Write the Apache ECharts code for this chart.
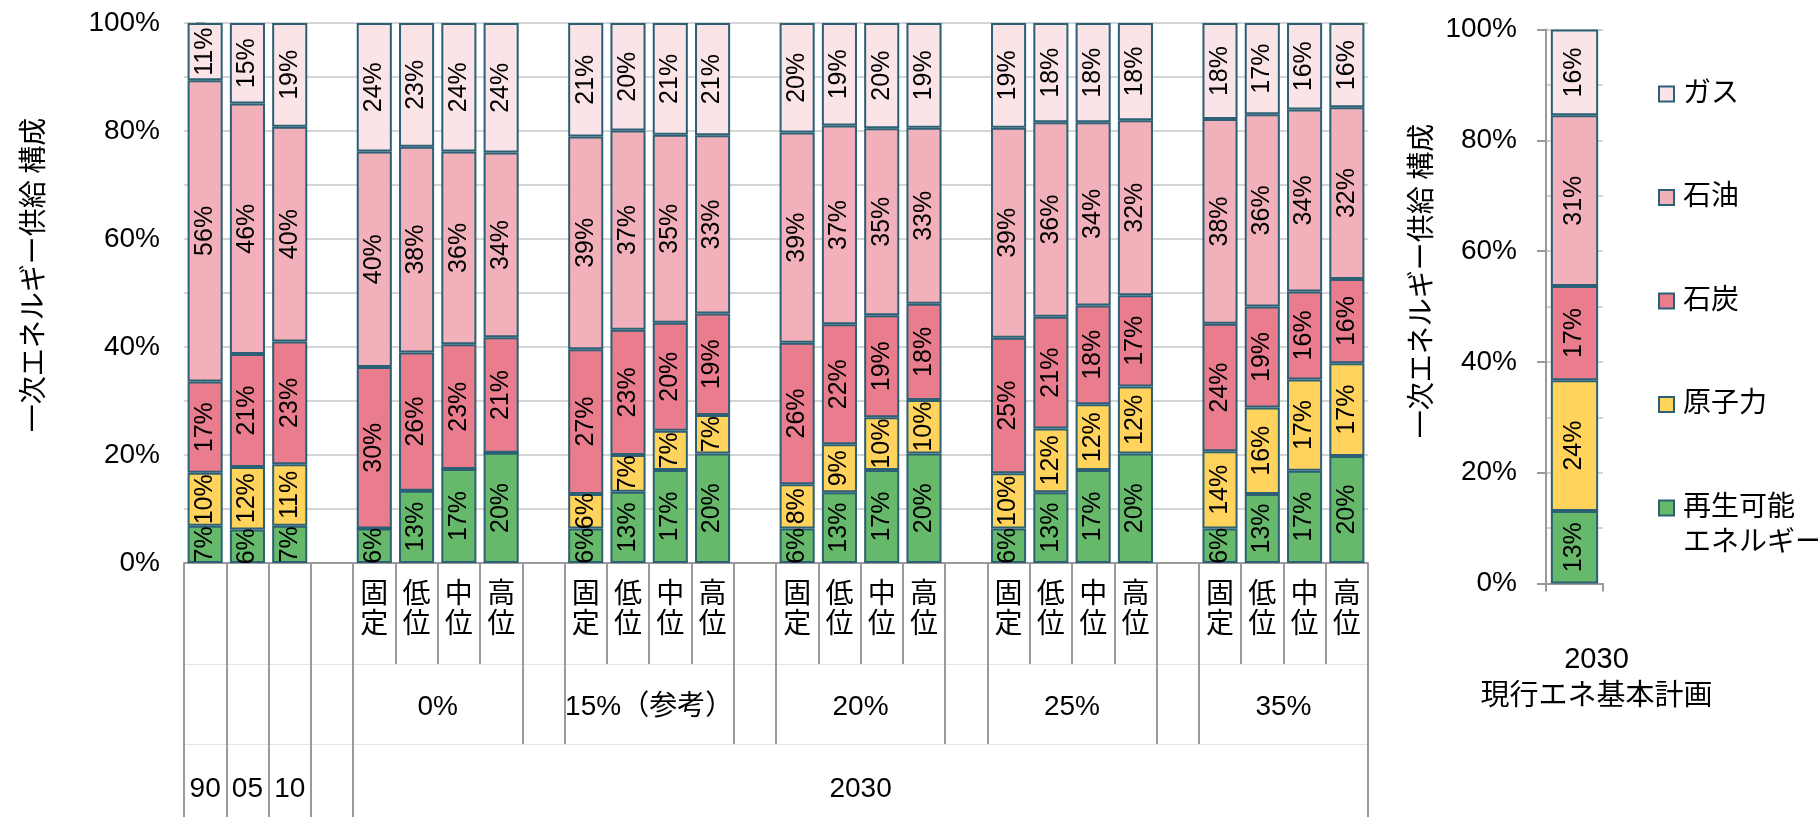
<!DOCTYPE html>
<html><head><meta charset="utf-8">
<script src="https://cdn.jsdelivr.net/npm/echarts@6/dist/echarts.min.js"></script>
<style>html,body{margin:0;padding:0;background:#fff}#c{width:1818px;height:817px}</style>
</head><body><div id="c"></div>
<script>
// ---- data ----
const categories = ['90','05','10','gapA',
  '0%-固定','0%-低位','0%-中位','0%-高位','gapB',
  '15%-固定','15%-低位','15%-中位','15%-高位','gapC',
  '20%-固定','20%-低位','20%-中位','20%-高位','gapD',
  '25%-固定','25%-低位','25%-中位','25%-高位','gapE',
  '35%-固定','35%-低位','35%-中位','35%-高位'];
const subLabels = ['','','','',
  '固\n定','低\n位','中\n位','高\n位','',
  '固\n定','低\n位','中\n位','高\n位','',
  '固\n定','低\n位','中\n位','高\n位','',
  '固\n定','低\n位','中\n位','高\n位','',
  '固\n定','低\n位','中\n位','高\n位'];
const groupNames = ['0%','15%（参考）','20%','25%','35%'];
const groupCenters = [5.5, 10.5, 15.5, 20.5, 25.5];
const level2Bounds = [-0.5,0.5,1.5,2.5,3.5,7.5,8.5,12.5,13.5,17.5,18.5,22.5,23.5,27.5];
const topNames = ['90','05','10','2030'];
const topCenters = [0,1,2,15.5];
const level3Bounds = [-0.5,0.5,1.5,2.5,3.5,27.5];

const renewable = [6.9,6.2,6.9,null, 6.4,13.4,17.4,20.4,null, 6.4,13.2,17.2,20.3,null, 6.4,13.1,17.2,20.3,null, 6.4,13.1,17.2,20.3,null, 6.4,12.8,17.1,19.8];
const nuclear   = [9.8,11.6,11.4,null, 0,0,0,0,null, 6.4,6.8,7.3,7.1,null, 8.2,8.9,9.8,9.9,null, 10.2,11.8,12.2,12.4,null, 14.3,16.0,16.9,17.2];
const coal      = [16.9,20.9,22.7,null, 29.9,25.6,23.1,21.4,null, 26.8,23.2,20.0,18.8,null, 26.2,22.2,18.9,17.8,null, 25.1,20.7,18.3,16.9,null, 23.6,18.7,16.3,15.6];
const oil       = [55.8,46.4,39.8,null, 39.9,38.1,35.7,34.2,null, 39.4,36.9,34.8,33.0,null, 38.9,36.8,34.6,32.6,null, 38.9,36.0,33.9,32.4,null, 37.9,35.6,33.7,31.8];
const gas       = [10.6,14.9,19.2,null, 23.8,22.9,23.8,24.0,null, 21.0,19.9,20.7,20.8,null, 20.3,19.0,19.5,19.4,null, 19.4,18.4,18.4,18.0,null, 17.8,16.9,16.0,15.6];

const planCategory = ['2030\n現行エネ基本計画'];
const planRenewable = [13.1];
const planNuclear = [23.6];
const planCoal = [17.0];
const planOil = [30.8];
const planGas = [15.5];

const yTicks = ['0%','20%','40%','60%','80%','100%'];

// ---- styles ----
const FONT = '"Liberation Sans", Arial, "Noto Sans CJK JP", sans-serif';
const BORDER = '#2b6075';
const AX = '#9a9a9a';
const GRID = '#c6c6c6';
const seriesDefs = [
  {name:'再生可能エネルギー', color:'#66b86a', main:renewable, plan:planRenewable},
  {name:'原子力', color:'#ffd35c', main:nuclear, plan:planNuclear},
  {name:'石炭', color:'#e97c8d', main:coal, plan:planCoal},
  {name:'石油', color:'#f2b0ba', main:oil, plan:planOil},
  {name:'ガス', color:'#fbe4e8', main:gas, plan:planGas}
];
const labelCfg = {
  show:true, position:'inside', rotate:90, fontSize:25, color:'#000', fontFamily:FONT,
  formatter: p => (p.value > 0 ? Math.round(p.value) + '%' : '')
};
function yAxisCfg(gridIndex, margin){
  return {
    gridIndex, type:'value', min:0, max:100, interval:20,
    axisLine:{show:true, lineStyle:{color:AX, width:2}},
    axisTick:{show:true, length:9, lineStyle:{color:AX, width:2}},
    axisLabel:{formatter: v => yTicks[Math.round(v/20)], fontSize:28, color:'#000', margin, fontFamily:FONT},
    splitLine:{show:true, lineStyle:{color:GRID, width:1.5}},
    minorTick:{show:false, splitNumber:2},
    minorSplitLine:{show:true, lineStyle:{color:GRID, width:1.5}}
  };
}
function findName(v, centers, names){
  for (let i=0;i<centers.length;i++) if (Math.abs(centers[i]-v) < 1e-6) return names[i];
  return '';
}
const series = [];
seriesDefs.forEach(d => {
  series.push({
    name:d.name, type:'bar', stack:'main', xAxisIndex:0, yAxisIndex:0,
    data:d.main, barCategoryGap:'17%',
    itemStyle:{color:d.color, borderColor:BORDER, borderWidth:2},
    label:labelCfg
  });
});
seriesDefs.forEach(d => {
  series.push({
    name:d.name, type:'bar', stack:'plan', xAxisIndex:3, yAxisIndex:1,
    data:d.plan, barCategoryGap:'17%',
    itemStyle:{color:d.color, borderColor:BORDER, borderWidth:2},
    label:labelCfg
  });
});

const legendCommon = {
  orient:'vertical', left:1653, itemWidth:15, itemHeight:15, icon:'rect', selectedMode:false,
  textStyle:{fontSize:28, lineHeight:35, color:'#000', fontFamily:FONT, padding:[0,0,0,4]},
  itemStyle:{borderColor:BORDER, borderWidth:2}
};

const option = {
  animation:false,
  backgroundColor:'#fff',
  textStyle:{fontFamily:FONT},
  grid:[
    {left:184, top:23, width:1184, height:540},
    {left:1546, top:29.5, width:57, height:554}
  ],
  xAxis:[
    {gridIndex:0, type:'category', data:categories, position:'bottom',
     axisLine:{show:true, lineStyle:{color:AX, width:2}},
     axisTick:{show:true, interval:0, length:101, lineStyle:{color:AX, width:2}},
     axisLabel:{interval:0, formatter:(v,i)=>subLabels[i], fontSize:28, lineHeight:30, margin:17, color:'#000', fontFamily:FONT},
     splitLine:{show:false}},
    {gridIndex:0, type:'value', min:-0.5, max:27.5, position:'bottom', offset:101,
     axisLine:{show:true, lineStyle:{color:'#e4e4e4', width:1}},
     axisTick:{show:true, customValues:level2Bounds, length:80, lineStyle:{color:AX, width:2}},
     axisLabel:{customValues:groupCenters, formatter:v=>findName(v, groupCenters, groupNames), fontSize:28, margin:29, color:'#000', fontFamily:FONT},
     splitLine:{show:false}},
    {gridIndex:0, type:'value', min:-0.5, max:27.5, position:'bottom', offset:181,
     axisLine:{show:true, lineStyle:{color:'#e4e4e4', width:1}},
     axisTick:{show:true, customValues:level3Bounds, length:90, lineStyle:{color:AX, width:2}},
     axisLabel:{customValues:topCenters, formatter:v=>findName(v, topCenters, topNames), fontSize:28, margin:31, color:'#000', fontFamily:FONT},
     splitLine:{show:false}},
    {gridIndex:1, type:'category', data:planCategory,
     axisLine:{show:true, lineStyle:{color:AX, width:2}},
     axisTick:{show:true, length:8, lineStyle:{color:AX, width:2}},
     axisLabel:{fontSize:29, lineHeight:37, margin:58, color:'#000', fontFamily:FONT, padding:[0,0,0,44]}}
  ],
  yAxis:[yAxisCfg(0, 24), yAxisCfg(1, 29)],
  legend:[
    Object.assign({}, legendCommon, {top:71.5, itemGap:68.5, data:['ガス','石油','石炭','原子力']}),
    Object.assign({}, legendCommon, {top:450.5, data:['再生可能エネルギー'], formatter:()=>'\n再生可能\nエネルギー'})
  ],
  graphic:[
    {type:'text', x:32, y:275, rotation:Math.PI/2,
     style:{text:'一次エネルギー供給 構成', font:'28px "Noto Sans CJK JP", sans-serif', fill:'#000', align:'center', verticalAlign:'middle'}},
    {type:'text', x:1420, y:281, rotation:Math.PI/2,
     style:{text:'一次エネルギー供給 構成', font:'28px "Noto Sans CJK JP", sans-serif', fill:'#000', align:'center', verticalAlign:'middle'}}
  ],
  series
};
const chart = echarts.init(document.getElementById('c'));
chart.setOption(option);
</script></body></html>
